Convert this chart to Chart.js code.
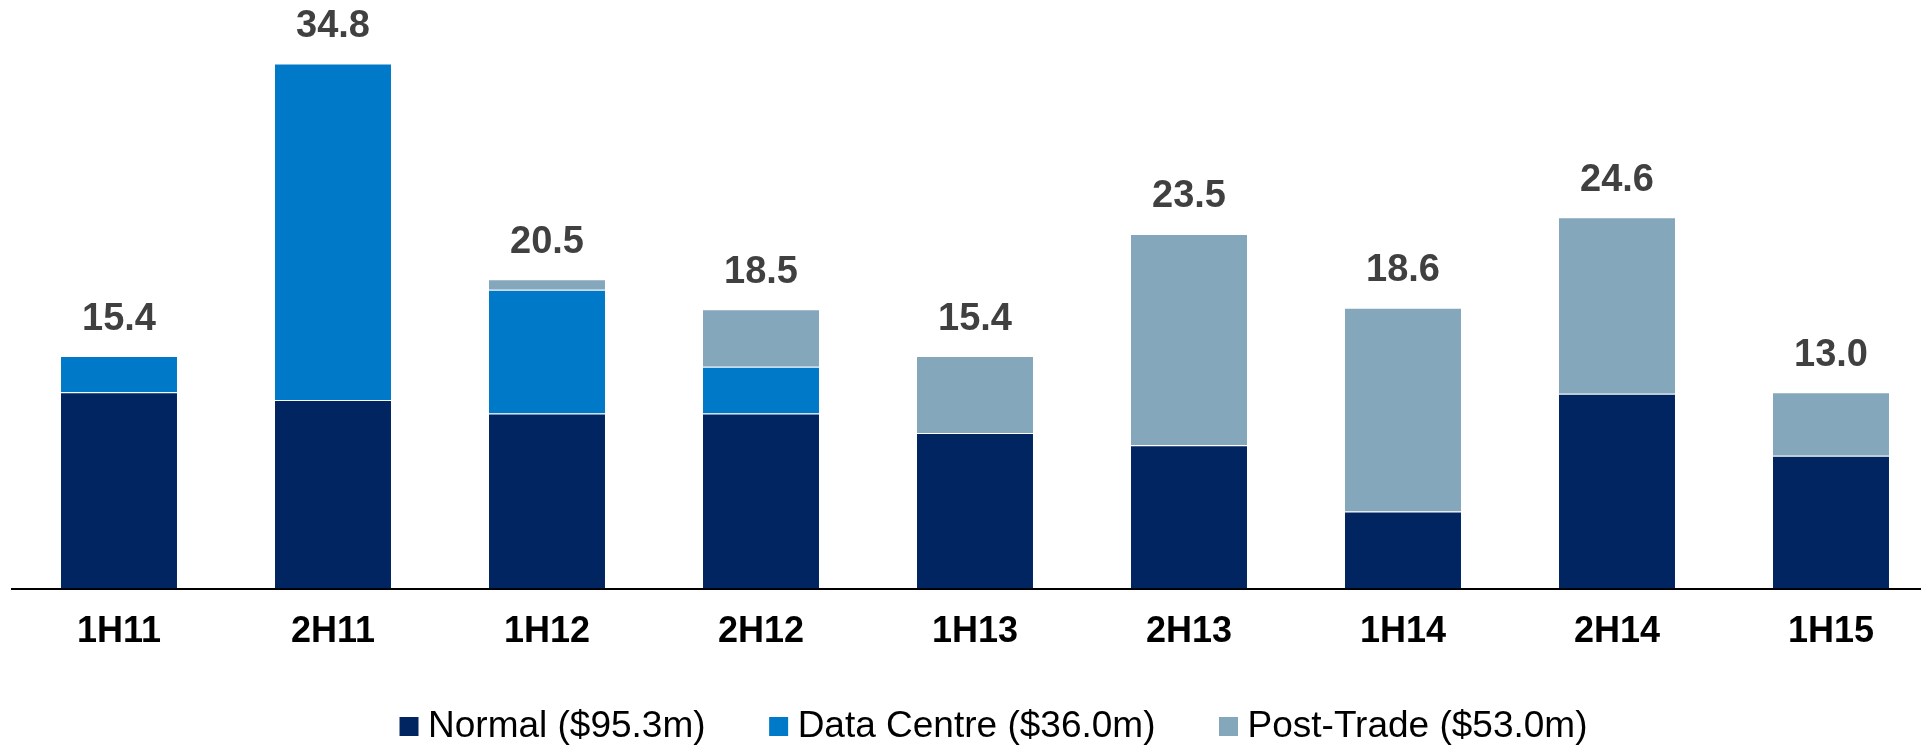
<!DOCTYPE html>
<html>
<head>
<meta charset="utf-8">
<script src="https://cdn.jsdelivr.net/npm/chart.js@4/dist/chart.umd.min.js"></script>
<style>
  html, body { margin: 0; padding: 0; background: #ffffff; overflow: hidden; width: 1921px; height: 747px; }
  #wrap { position: absolute; left: 0; top: 0; width: 1984px; height: 755px; }
</style>
</head>
<body>
<div id="wrap"><canvas id="c" width="1984" height="755"></canvas></div>
<script>
const categories = ['1H11', '2H11', '1H12', '2H12', '1H13', '2H13', '1H14', '2H14', '1H15'];
const normal     = [13.0, 12.5, 11.6, 11.6, 10.3, 9.5, 5.1, 12.9, 8.8];
const dataCentre = [2.4, 22.3, 8.2, 3.1, 0, 0, 0, 0, 0];
const postTrade  = [0, 0, 0.7, 3.8, 5.1, 14.0, 13.5, 11.7, 4.2];
const seriesNames = ['Normal', 'Data Centre', 'Post-Trade'];
const yTicks = { min: 0, max: 39 };

const FONT = '"Liberation Sans", Arial, Helvetica, sans-serif';
const sum = a => a.reduce((s, v) => s + v, 0);
const legendLabel = (name, arr) => `${name} ($${sum(arr).toFixed(1)}m)`;
const totals = categories.map((_, i) => normal[i] + dataCentre[i] + postTrade[i]);

const segBorder = { top: 1, left: 0, right: 0, bottom: 0 };

const totalLabels = {
  id: 'totalLabels',
  afterDatasetsDraw(chart) {
    const { ctx, scales } = chart;
    ctx.save();
    ctx.font = 'bold 38px ' + FONT;
    ctx.fillStyle = '#404040';
    ctx.textAlign = 'center';
    ctx.textBaseline = 'middle';
    totals.forEach((t, i) => {
      const x = scales.x.getPixelForValue(i);
      const y = scales.y.getPixelForValue(t) - 37;
      ctx.fillText(t.toFixed(1), x, y);
    });
    ctx.restore();
  }
};

new Chart(document.getElementById('c'), {
  type: 'bar',
  data: {
    labels: categories,
    datasets: [
      { label: legendLabel(seriesNames[0], normal), data: normal, backgroundColor: '#002561', borderColor: 'rgba(255,255,255,0.5)', borderWidth: segBorder },
      { label: legendLabel(seriesNames[1], dataCentre), data: dataCentre, backgroundColor: '#0079C8', borderColor: 'rgba(255,255,255,0.5)', borderWidth: segBorder },
      { label: legendLabel(seriesNames[2], postTrade), data: postTrade, backgroundColor: '#84A7BC', borderColor: 'rgba(255,255,255,0.5)', borderWidth: segBorder }
    ]
  },
  options: {
    responsive: false,
    animation: false,
    devicePixelRatio: 1,
    datasets: { bar: { categoryPercentage: 1.0, barPercentage: 0.542 } },
    layout: { padding: { left: 12, right: 0, top: 0, bottom: 0 } },
    plugins: {
      tooltip: { enabled: false },
      legend: {
        display: true,
        position: 'bottom',
        labels: {
          usePointStyle: true,
          pointStyle: 'rect',
          boxWidth: 1,
          boxHeight: 19,
          padding: 52,
          color: '#000000',
          font: { family: FONT, size: 37, weight: 'normal' },
          generateLabels(chart) {
            const items = Chart.defaults.plugins.legend.labels.generateLabels(chart);
            items.forEach((it, i) => {
              it.lineWidth = 0;
              if (i < items.length - 1) it.text = it.text + '  ';
            });
            return items;
          }
        }
      }
    },
    scales: {
      x: {
        stacked: true,
        grid: { display: false, drawTicks: false },
        border: { display: true, color: '#000000', width: 2 },
        ticks: {
          color: '#000000',
          padding: 22.4,
          font: { family: FONT, size: 36, weight: 'bold' }
        },
        afterFit(scale) { scale.height = 67.5; }
      },
      y: {
        stacked: true,
        position: 'right',
        min: yTicks.min,
        max: yTicks.max,
        grid: { display: false, drawTicks: false },
        border: { display: false },
        ticks: { display: false },
        afterFit(scale) { scale.width = 46; }
      }
    }
  },
  plugins: [totalLabels]
});
</script>
</body>
</html>
